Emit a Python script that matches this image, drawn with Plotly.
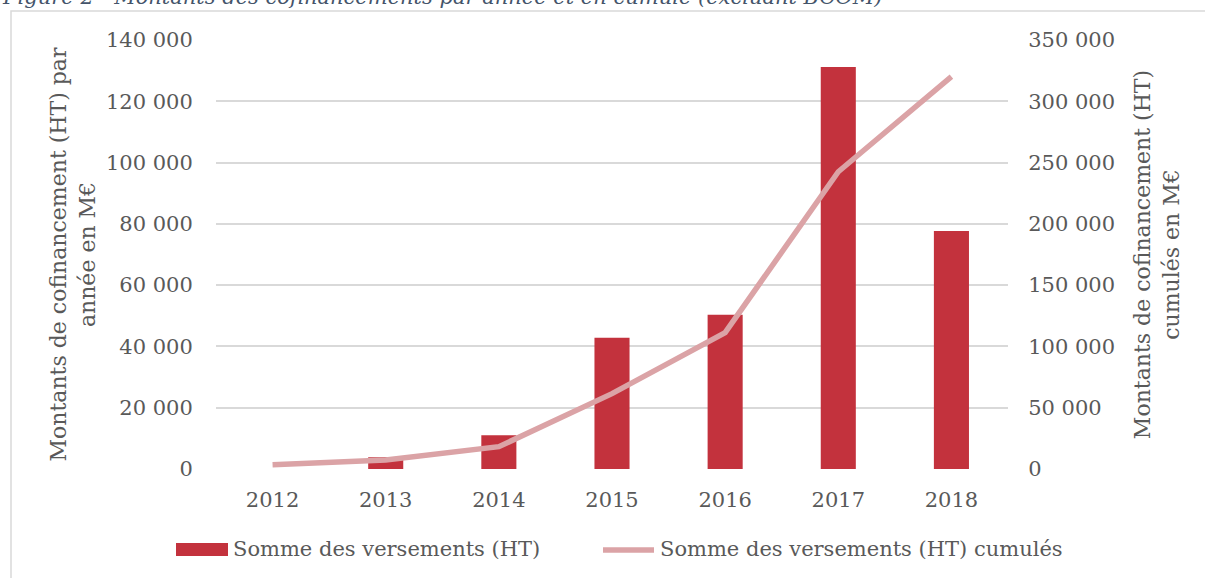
import plotly.graph_objects as go

years = ["2012", "2013", "2014", "2015", "2016", "2017", "2018"]
versements = [0, 3800, 11000, 42800, 50300, 131200, 77700]
cumules = [3500, 7300, 18200, 61500, 111300, 242500, 320200]

left_ticks = [0, 20000, 40000, 60000, 80000, 100000, 120000, 140000]
left_labels = ["0", "20 000", "40 000", "60 000", "80 000", "100 000", "120 000", "140 000"]
right_ticks = [0, 50000, 100000, 150000, 200000, 250000, 300000, 350000]
right_labels = ["0", "50 000", "100 000", "150 000", "200 000", "250 000", "300 000", "350 000"]

bar_name = "Somme des versements (HT)"
line_name = "Somme des versements (HT) cumulés"

FONT = "DejaVu Serif"
GREY = "#595959"
GRID = "#D9D9D9"
RED = "#C3323D"
PINK = "#DBA3A6"

W, H = 1205, 578
L, R, T, B = 216, 197, 40, 109
pw, ph = W - L - R, H - T - B

def px_x(x):
    return (x - L) / pw

def px_y(y):
    return (H - B - y) / ph

fig = go.Figure()
fig.add_trace(go.Bar(
    x=years, y=versements, name=bar_name,
    marker=dict(color=RED, line=dict(width=0)), yaxis="y",
))
fig.add_trace(go.Scatter(
    x=years, y=cumules, name=line_name,
    mode="lines", line=dict(color=PINK, width=5.5), yaxis="y2",
))

fig.update_layout(
    width=W, height=H,
    margin=dict(l=L, r=R, t=T, b=B, autoexpand=False),
    paper_bgcolor="white", plot_bgcolor="white",
    font=dict(family=FONT, size=21, color=GREY),
    bargap=0.69,
    showlegend=False,
    xaxis=dict(
        type="category", showgrid=False, showline=False, zeroline=False,
        ticks="outside", ticklen=12, tickcolor="rgba(0,0,0,0)",
        tickfont=dict(family=FONT, size=21, color=GREY),
    ),
    yaxis=dict(
        range=[0, 140000], tickvals=left_ticks, ticktext=left_labels,
        showgrid=True, gridcolor=GRID, gridwidth=1.5, zeroline=False,
        showline=False, ticks="outside", ticklen=18, tickcolor="rgba(0,0,0,0)",
        tickfont=dict(family=FONT, size=21, color=GREY),
        title=dict(text="Montants de cofinancement (HT) par<br>année en M€",
                   font=dict(family=FONT, size=22, color=GREY), standoff=4),
    ),
    yaxis2=dict(
        range=[0, 350000], tickvals=right_ticks, ticktext=right_labels,
        overlaying="y", side="right", showgrid=False, zeroline=False,
        showline=False, ticks="outside", ticklen=15, tickcolor="rgba(0,0,0,0)",
        tickfont=dict(family=FONT, size=21, color=GREY),
        title=dict(text="Montants de cofinancement (HT)<br>cumulés en M€",
                   font=dict(family=FONT, size=22, color=GREY), standoff=20),
    ),
    annotations=[
        dict(
            text="<i>Figure 2 - Montants des cofinancements par année et en cumulé (excluant BCOM)</i>",
            xref="paper", yref="paper", x=px_x(0), y=px_y(11), xanchor="left", yanchor="bottom",
            showarrow=False, font=dict(family=FONT, size=21, color="#44546A"),
        ),
        dict(text=bar_name, xref="paper", yref="paper", x=px_x(231), y=px_y(549),
             xanchor="left", yanchor="middle", showarrow=False,
             font=dict(family=FONT, size=21, color=GREY)),
        dict(text=line_name, xref="paper", yref="paper", x=px_x(658), y=px_y(549),
             xanchor="left", yanchor="middle", showarrow=False,
             font=dict(family=FONT, size=21, color=GREY)),
    ],
    shapes=[
        dict(type="rect", xref="paper", yref="paper",
             x0=px_x(11), x1=px_x(1220), y0=px_y(11), y1=px_y(600),
             line=dict(color=GRID, width=1.5), fillcolor="rgba(0,0,0,0)", layer="below"),
        dict(type="rect", xref="paper", yref="paper",
             x0=px_x(176), x1=px_x(228), y0=px_y(556), y1=px_y(543),
             line=dict(width=0), fillcolor=RED),
        dict(type="line", xref="paper", yref="paper",
             x0=px_x(603), x1=px_x(654), y0=px_y(550), y1=px_y(550),
             line=dict(color=PINK, width=5.5)),
    ],
)

fig.write_html(
    "out.html",
    config={"displayModeBar": False},
    post_script="document.body.style.margin='0';document.body.style.overflow='hidden';",
)
